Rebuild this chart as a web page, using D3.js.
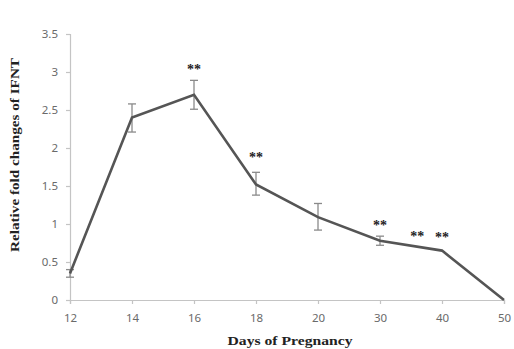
<!DOCTYPE html>
<html>
<head>
<meta charset="utf-8">
<script src="https://cdn.jsdelivr.net/npm/d3@7"></script>
<style>
  body { margin: 0; background: #fff; }
  svg text { font-family: "Noto Sans", sans-serif; }
</style>
</head>
<body>
<svg id="chart" width="514" height="349"></svg>
<script>
// days of pregnancy (categories) and mean fold changes
const days = ['12', '14', '16', '18', '20', '30', '40', '50'];
const foldChange = [0.35, 2.40, 2.70, 1.52, 1.09, 0.78, 0.65, 0];
const errLow = [0.30, 2.21, 2.51, 1.38, 0.92, 0.72, null, null];
const errHigh = [0.40, 2.58, 2.89, 1.68, 1.27, 0.84, null, null];
const yTicks = [0, 0.5, 1, 1.5, 2, 2.5, 3, 3.5];
// significance marks: position in category units and height in value units
const starPos = [2, 3, 5, 5.6, 6];
const starVal = [2.98, 1.82, 0.92, 0.78, 0.76];

const margin = { top: 34, left: 70, bottom: 49, right: 10 };
const width = 504 - margin.left;
const height = 349 - margin.top - margin.bottom;

const svg = d3.select('#chart');
const g = svg.append('g')
    .attr('transform', `translate(${margin.left}, ${margin.top})`);

const x = d3.scalePoint()
    .domain(days)
    .range([0, width]);
const step = x.step();
const xPos = (i) => i * step;

const y = d3.scaleLinear()
    .domain([0, 3.5])
    .range([height, 0]);

// axes
const xAxis = g.append('g')
    .attr('transform', `translate(0, ${height})`)
    .call(d3.axisBottom(x).tickSize(4).tickPadding(8));
const yAxis = g.append('g')
    .call(d3.axisLeft(y).tickValues(yTicks).tickFormat(d3.format('')).tickSize(4).tickPadding(8));

[xAxis, yAxis].forEach((ax) => {
    ax.select('.domain').attr('stroke', '#c4c4c4').attr('stroke-width', 1.2);
    ax.selectAll('.tick line').attr('stroke', '#c4c4c4').attr('stroke-width', 1.2);
    ax.selectAll('.tick text')
        .attr('fill', '#6a6a6a')
        .style('font-size', '11.5px');
});
xAxis.selectAll('.tick text').attr('dy', '0.9em');

// error bars
const eb = g.selectAll('.err')
    .data(days.map((d, i) => ({ d, lo: errLow[i], hi: errHigh[i] })).filter((e) => e.lo !== null))
    .enter().append('g')
    .classed('err', true)
    .attr('stroke', '#8a8a8a')
    .attr('stroke-width', 1.3);
eb.append('line')
    .attr('x1', (e) => x(e.d)).attr('x2', (e) => x(e.d))
    .attr('y1', (e) => y(e.lo)).attr('y2', (e) => y(e.hi));
eb.append('line')
    .attr('x1', (e) => x(e.d) - 4).attr('x2', (e) => x(e.d) + 4)
    .attr('y1', (e) => y(e.lo)).attr('y2', (e) => y(e.lo));
eb.append('line')
    .attr('x1', (e) => x(e.d) - 4).attr('x2', (e) => x(e.d) + 4)
    .attr('y1', (e) => y(e.hi)).attr('y2', (e) => y(e.hi));

// line
const line = d3.line()
    .x((d, i) => x(days[i]))
    .y((d) => y(d));
g.append('path')
    .datum(foldChange)
    .attr('fill', 'none')
    .attr('stroke', '#555')
    .attr('stroke-width', 2.6)
    .attr('stroke-linejoin', 'miter')
    .attr('d', line);

// stars
g.selectAll('.star')
    .data(starPos)
    .enter().append('text')
    .classed('star', true)
    .attr('x', (p) => xPos(p))
    .attr('y', (p, i) => y(starVal[i]))
    .attr('text-anchor', 'middle')
    .attr('fill', '#222')
    .style('font-family', '"Liberation Serif", serif')
    .style('font-weight', 'bold')
    .style('font-size', '14px')
    .text('**');

// axis titles
svg.append('text')
    .attr('x', 290)
    .attr('y', 345)
    .attr('text-anchor', 'middle')
    .attr('textLength', 125)
    .attr('lengthAdjust', 'spacingAndGlyphs')
    .style('font-family', '"Liberation Serif", serif')
    .style('font-weight', 'bold')
    .style('font-size', '13.5px')
    .attr('fill', '#222')
    .text('Days of Pregnancy');

svg.append('text')
    .attr('transform', 'translate(19, 155) rotate(-90)')
    .attr('text-anchor', 'middle')
    .attr('textLength', 194)
    .attr('lengthAdjust', 'spacingAndGlyphs')
    .style('font-family', '"Liberation Serif", serif')
    .style('font-weight', 'bold')
    .style('font-size', '12.5px')
    .attr('fill', '#222')
    .text('Relative fold changes of IFNT');
</script>
</body>
</html>
